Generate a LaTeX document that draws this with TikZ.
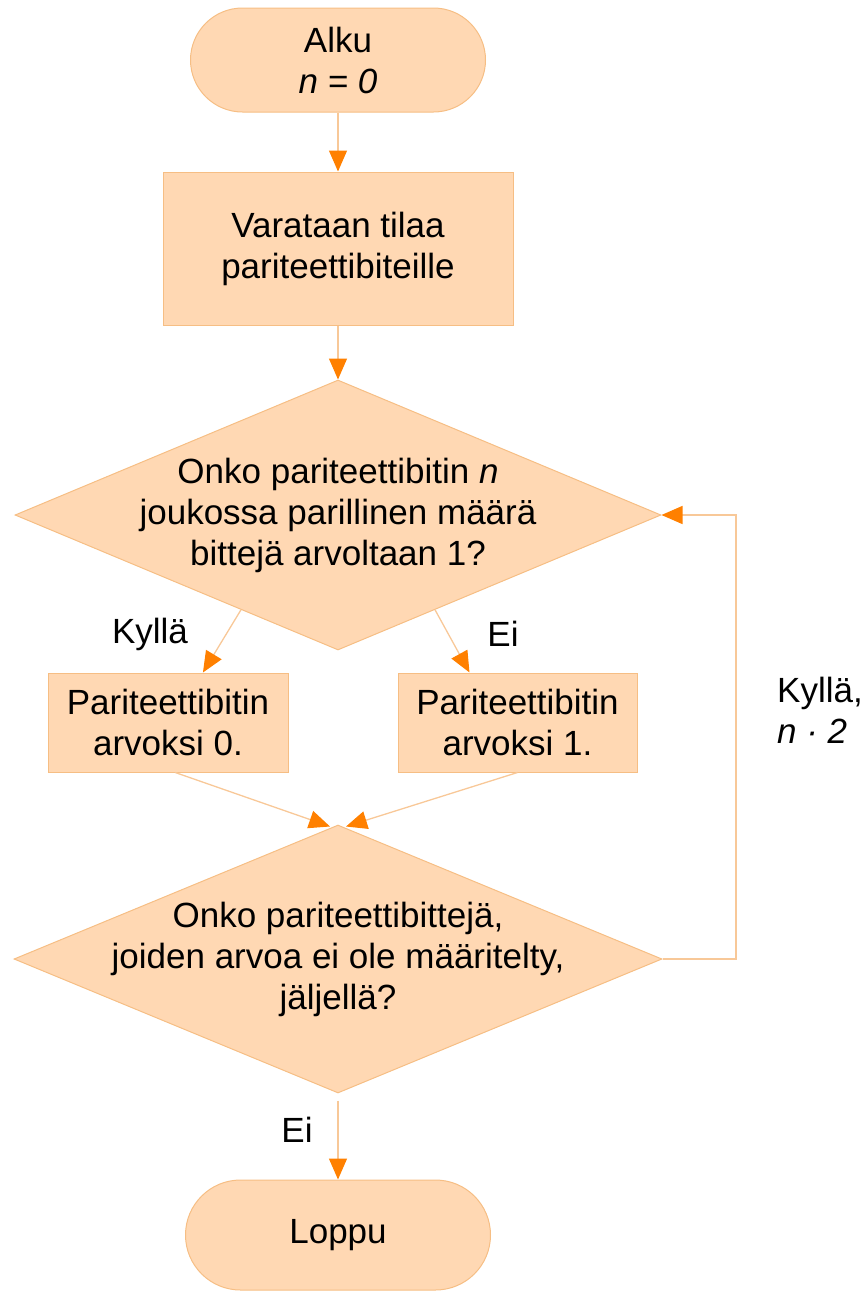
\documentclass[tikz,border=0pt]{standalone}
\usepackage{fontspec}
\setmainfont{Liberation Sans}
\usetikzlibrary{arrows.meta,shapes.geometric,calc}
\definecolor{boxfill}{HTML}{FFD8B3}
\definecolor{boxdraw}{HTML}{F6BE84}
\definecolor{linec}{HTML}{F8C898}
\definecolor{tipc}{HTML}{FF8000}
\begin{document}
\begin{tikzpicture}[x=1pt,y=-1pt,
  every node/.style={font=\fontsize{35}{41}\selectfont, align=center, inner sep=0pt},
  shapebox/.style={draw=boxdraw, fill=boxfill, line width=1pt},
  terminal/.style={shapebox, rectangle, rounded corners=52pt},
  procbox/.style={shapebox, rectangle},
  decision/.style={shapebox, diamond},
  flow/.style={draw=linec, line width=1.3pt, -{Triangle[length=21pt,width=18pt,color=tipc]}},
  lbl/.style={}
]
\useasboundingbox (0,0) rectangle (864,1293);
\node[terminal, minimum width=295pt, minimum height=104pt] (start) at (338,60) {Alku\\ \textit{n = 0}};
\node[procbox, minimum width=350pt, minimum height=153pt] (alloc) at (338,248.5) {Varataan tilaa\\pariteettibiteille};
\node[decision, minimum width=646pt, minimum height=270pt] (d1) at (338,515) {};
\node (d1t) at (d1.center) {Onko pariteettibitin \textit{n}\\joukossa parillinen määrä\\bittejä arvoltaan 1?};
\node[procbox, minimum width=240pt, minimum height=99pt] (b0) at (168,722.5) {Pariteettibitin\\arvoksi 0.};
\node[procbox, minimum width=239pt, minimum height=99pt] (b1) at (517.5,722.5) {Pariteettibitin\\arvoksi 1.};
\node[decision, minimum width=648pt, minimum height=268pt] (d2) at (338,959) {};
\node (d2t) at (d2.center) {Onko pariteettibittejä,\\joiden arvoa ei ole määritelty,\\jäljellä?};
\node[terminal, minimum width=305pt, minimum height=110pt, rounded corners=55pt] (end) at (338,1235) {Loppu};

\node[lbl] (lk) at (150,634) {Kyllä};
\node[lbl] (le) at (503,634) {Ei};
\node[lbl, anchor=west, align=left] (lloop) at (777,710) {Kyllä,\\ \textit{n · 2}};
\node[lbl] (le2) at (297,1130) {Ei};

\coordinate (loopc) at (736,0);
\coordinate (d2in1) at ($(d2.north)+(-8,2)$);
\coordinate (d2in2) at ($(d2.north)+(8,2)$);

\draw[flow] (start.south) -- (alloc.north);
\draw[flow] (alloc.south) -- (d1.north);
\draw[flow] ($(d1.west)!0.7!(d1.south)$) -- ($(b0.north west)!0.645!(b0.north east)$);
\draw[flow] ($(d1.south)!0.3!(d1.east)$) -- ($(b1.north west)!0.3!(b1.north east)$);
\draw[flow] ($(b0.south west)!0.53!(b0.south east)$) -- (d2in1);
\draw[flow] (b1.south) -- (d2in2);
\draw[flow] (d2.east) -- (d2.east -| loopc) |- (d1.east);
\draw[flow] (d2.south) ++(0,7) -- (end.north);
\end{tikzpicture}
\end{document}
